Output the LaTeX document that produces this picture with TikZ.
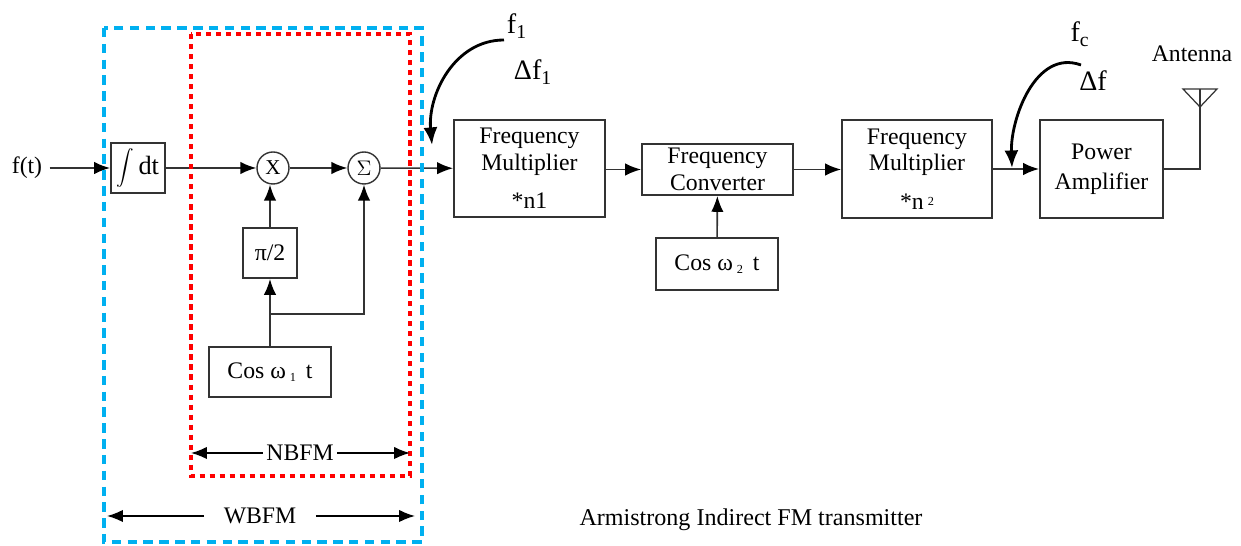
\documentclass[tikz,border=0pt]{standalone}
\usepackage{fontspec}
\setmainfont{Liberation Serif}
\usetikzlibrary{arrows.meta}
\definecolor{wbblue}{HTML}{00B0F0}
\tikzset{
  block/.style={draw=black!80, line width=1.1pt, inner sep=0pt, align=center, font=\fontsize{13.5}{15}\selectfont},
  junc/.style={draw=black!80, line width=0.8pt, circle, minimum size=32*0.02cm, inner sep=0pt, font=\fontsize{12}{14}\selectfont},
  txt/.style={inner sep=0pt, font=\fontsize{13.5}{15}\selectfont},
  ftxt/.style={inner sep=0pt, font=\fontsize{16}{18}\selectfont},
  wire/.style={draw=black!80, line width=0.9pt},
  wirearrow/.style={wire, -{Latex[length=9pt,width=7pt,black]}},
  curvearrow/.style={black, line width=1.6pt, -{Latex[length=10pt,width=8pt]}}
}
\begin{document}
\begin{tikzpicture}[x=0.02cm, y=-0.02cm]
        \useasboundingbox (0,0) rectangle (1241,546);
        %left part
        \node[txt] (ft) at (27,168) {f(t)};
        \node[block, minimum width=54*0.02cm, minimum height=50*0.02cm] (int) at (138,168) {$\displaystyle\int$\,{\fontsize{15}{15}\selectfont dt}};
        \node[junc] (mult) at (273,168) {X};
        \node[junc] (sum) at (364,168) {$\Sigma$};
        \node[block, minimum width=54*0.02cm, minimum height=50*0.02cm] (pihalf) at (270,253) {π/2};
        \node[block, minimum width=122*0.02cm, minimum height=50*0.02cm] (cosa) at (270,372) {Cos ω\,\raisebox{-2pt}{\scriptsize 1}\, t};
        \coordinate (split) at (270,314);

        %right part
        \node[block, minimum width=151*0.02cm, minimum height=97*0.02cm] (fma) at (529.5,168.5) {Frequency\\Multiplier\\[7pt]*n1};
        \node[block, minimum width=151*0.02cm, minimum height=51*0.02cm] (conv) at (717.5,169.5) {Frequency\\Converter};
        \node[block, minimum width=122*0.02cm, minimum height=52*0.02cm] (cosb) at (717,264) {Cos ω\,\raisebox{-2pt}{\scriptsize 2}\, t};
        \node[block, minimum width=150*0.02cm, minimum height=98*0.02cm] (fmb) at (917,169) {Frequency\\Multiplier\\[7pt]*n\,\raisebox{2pt}{\scriptsize 2}};
        \node[block, minimum width=123*0.02cm, minimum height=98*0.02cm] (pa) at (1101.5,169) {Power\\[2pt]Amplifier};

        %antenna
        \coordinate (antfoot) at (1200,169);
        \coordinate (anttop) at (1200,89);
        \coordinate (antl) at (1183,89);
        \coordinate (antr) at (1217,89);
        \coordinate (anttip) at (1200,107);
        \node[txt] (ant) at (1192,54) {Antenna};

        %frequency labels
        \node[ftxt] (fone) at (517,26) {f\textsubscript{1}};
        \node[ftxt] (dfone) at (533,72) {Δf\textsubscript{1}};
        \node[ftxt] (fc) at (1080,34) {f\textsubscript{c}};
        \node[ftxt] (df) at (1093,81) {Δf};
        \coordinate (fonestart) at (504,40);
        \coordinate (foneend) at (432,145);
        \coordinate (fcstart) at (1081,65);
        \coordinate (fcend) at (1012,168);

        \draw[wirearrow, shorten <=4pt] (ft) -- (int);
        \draw[wirearrow] (int) -- (mult);
        \draw[wirearrow] (mult) -- (sum);
        \draw[wirearrow] (sum) -- (fma);
        \draw[wirearrow] (pihalf.north) -- (pihalf.north |- mult.south);
        \draw[wirearrow] (cosa) -- (pihalf);
        \draw[wirearrow] (split) -| (sum);
        \draw[wirearrow] (fma.east |- conv) -- (conv);
        \draw[wirearrow] (cosb) -- (conv);
        \draw[wirearrow] (conv) -- (fmb.west |- conv);
        \draw[wirearrow] (fmb) -- (pa);
        \draw[wire] (pa) -- (antfoot) -- (anttop);
        \draw[wire, line width=0.7pt] (antl) -- (antr) -- (anttip) -- cycle;

        \draw[curvearrow] (fonestart) to[out=180, in=95] (foneend);
        \draw[curvearrow] (fcstart) to[out=160, in=92] (fcend);

        %dashed frames
        \draw[red, line width=1.8pt, dash pattern=on 3pt off 2.7pt] (191,34) rectangle (410,476);
        \draw[wbblue, line width=2.6pt, dash pattern=on 5.4pt off 3.6pt] (104,28) rectangle (422,542);

        %width marks
        \node[txt, inner xsep=2pt, inner ysep=0pt] (nbfm) at (300,453) {NBFM};
        \coordinate (nbl) at (191,453);
        \coordinate (nbr) at (410,453);
        \draw[wirearrow, black] (nbfm) -- (nbl);
        \draw[wirearrow, black] (nbfm) -- (nbr);
        \node[txt, inner xsep=11pt, inner ysep=0pt] (wbfm) at (260,516) {WBFM};
        \coordinate (wbl) at (107,516);
        \coordinate (wbr) at (415,516);
        \draw[wirearrow, black] (wbfm) -- (wbl);
        \draw[wirearrow, black] (wbfm) -- (wbr);

        \node[txt, font=\fontsize{13.7}{15}\selectfont] (title) at (751,520) {Armistrong Indirect FM transmitter};
\end{tikzpicture}
\end{document}
